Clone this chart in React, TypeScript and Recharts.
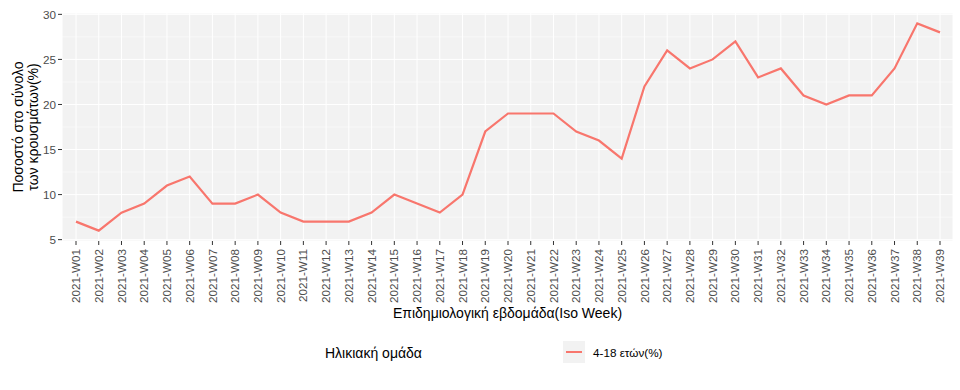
import { LineChart, Line, XAxis, YAxis, CartesianGrid, ReferenceLine } from "recharts";

const weeks = [
  "2021-W01", "2021-W02", "2021-W03", "2021-W04", "2021-W05", "2021-W06", "2021-W07", "2021-W08",
  "2021-W09", "2021-W10", "2021-W11", "2021-W12", "2021-W13", "2021-W14", "2021-W15", "2021-W16",
  "2021-W17", "2021-W18", "2021-W19", "2021-W20", "2021-W21", "2021-W22", "2021-W23", "2021-W24",
  "2021-W25", "2021-W26", "2021-W27", "2021-W28", "2021-W29", "2021-W30", "2021-W31", "2021-W32",
  "2021-W33", "2021-W34", "2021-W35", "2021-W36", "2021-W37", "2021-W38", "2021-W39",
];

const share = [
  7, 6, 8, 9, 11, 12, 9, 9,
  10, 8, 7, 7, 7, 8, 10, 9,
  8, 10, 17, 19, 19, 19, 17, 16,
  14, 22, 26, 24, 25, 27, 23, 24,
  21, 20, 21, 21, 24, 29, 28,
];

const yTicks = [5, 10, 15, 20, 25, 30];
const yMinor = [7.5, 12.5, 17.5, 22.5, 27.5];

const seriesName = "4-18 ετών(%)";
const legendTitle = "Ηλικιακή ομάδα";
const xTitle = "Επιδημιολογική εβδομάδα(Iso Week)";
const yTitle = ["Ποσοστό στο σύνολο", "των κρουσμάτων(%)"];

const RED = "#F8766D";
const PANEL = "#F2F2F2";
const FONT = "'Liberation Sans', Arial, sans-serif";

const data = weeks.map((week, i) => ({ week, value: share[i] }));

function WeekTick(props: any) {
  const { x, y, payload } = props;
  return (
    <g transform={`translate(${x},${y + 2})`}>
      <text
        transform="rotate(-90)"
        textAnchor="end"
        dy="0.35em"
        fontSize={11.7}
        fill="#4D4D4D"
        fontFamily={FONT}
      >
        {payload.value}
      </text>
    </g>
  );
}

export default function App() {
  return (
    <div style={{ position: "absolute", left: 0, top: 0, width: 960, height: 390, background: "#fff", fontFamily: FONT }}>
      <LineChart width={960} height={390} data={data} margin={{ top: 13, right: 7, left: 0, bottom: 0 }}>
        <CartesianGrid fill={PANEL} stroke="#FFFFFF" strokeWidth={1} />
        {yMinor.map((v) => (
          <ReferenceLine key={v} y={v} stroke="#FFFFFF" strokeWidth={0.5} />
        ))}
        <XAxis
          dataKey="week"
          interval={0}
          height={149}
          padding={{ left: 14, right: 13 }}
          axisLine={false}
          tickLine={{ stroke: "#333333" }}
          tickSize={4}
          tick={<WeekTick />}
          label={{
            content: (p: any) => {
              const vb = p.viewBox;
              return (
                <text x={vb.x + vb.width / 2} y={vb.y + 77} textAnchor="middle" fontSize={14} fill="#000" fontFamily={FONT}>
                  {xTitle}
                </text>
              );
            },
          }}
        />
        <YAxis
          width={62}
          domain={[4.85, 30.15]}
          ticks={yTicks}
          allowDataOverflow
          axisLine={false}
          tickLine={{ stroke: "#333333" }}
          tickSize={4}
          tickMargin={2}
          tick={{ fontSize: 11.7, fill: "#4D4D4D", fontFamily: FONT }}
          label={{
            content: (p: any) => {
              const vb = p.viewBox;
              const cy = vb.y + vb.height / 2;
              return (
                <g>
                  {yTitle.map((line, i) => (
                    <text
                      key={line}
                      x={18 + i * 15}
                      y={cy}
                      transform={`rotate(-90, ${18 + i * 15}, ${cy})`}
                      textAnchor="middle"
                      dy="0.35em"
                      fontSize={14}
                      fill="#000"
                      fontFamily={FONT}
                    >
                      {line}
                    </text>
                  ))}
                </g>
              );
            },
          }}
        />
        <Line
          type="linear"
          dataKey="value"
          name={seriesName}
          stroke={RED}
          strokeWidth={2.2}
          dot={false}
          activeDot={false}
          isAnimationActive={false}
        />
      </LineChart>
      <div style={{ position: "absolute", left: 325, top: 344, fontSize: 14, color: "#000", lineHeight: "18px" }}>
        {legendTitle}
      </div>
      <div style={{ position: "absolute", left: 563, top: 341, width: 22, height: 22, background: PANEL }}>
        <div style={{ position: "absolute", left: 3, top: 10, width: 16, height: 2, background: RED }} />
      </div>
      <div style={{ position: "absolute", left: 593, top: 345, fontSize: 11.7, color: "#000", lineHeight: "15px" }}>
        {seriesName}
      </div>
    </div>
  );
}
